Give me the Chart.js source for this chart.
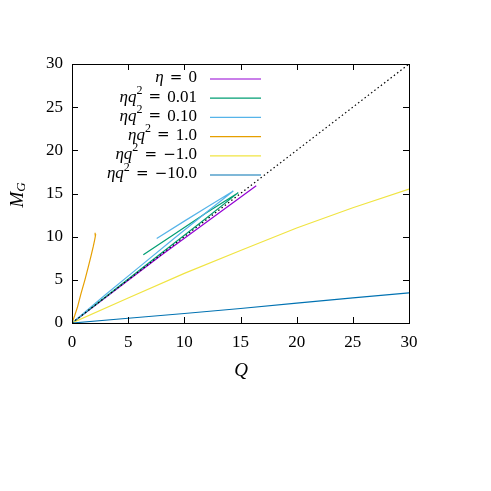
<!DOCTYPE html>
<html>
<head>
<meta charset="utf-8">
<script src="https://cdn.jsdelivr.net/npm/chart.js@4"></script>
<style>
  html, body { margin: 0; padding: 0; background: #fff; }
</style>
</head>
<body>
<canvas id="chart" width="491" height="491"></canvas>
<script>
'use strict';

// series: Q (x) and M_G (y)
const etaZeroQ = [0, 8, 16.4];
const etaZeroM = [0, 7.9, 15.9];

const eta001Q = [0, 3, 6, 9, 12, 14.8, 12, 9, 6.35];
const eta001M = [0, 3.05, 6.1, 9.15, 12.2, 15.1, 12.8, 10.2, 7.9];

const eta010Q = [0, 3, 6, 9, 12, 14.36, 12, 10, 7.54];
const eta010M = [0, 3.3, 6.5, 9.7, 12.85, 15.3, 13.4, 11.8, 9.8];

const eta1Q = [0, 0.25, 0.5, 0.8, 1.15, 1.45, 1.7, 1.9, 2.03, 2.1, 2.06];
const eta1M = [0, 0.9, 1.9, 3.4, 5.0, 6.5, 7.8, 8.9, 9.7, 10.2, 10.45];

const etaMinus1Q = [0, 5, 10, 15, 20, 25, 30];
const etaMinus1M = [0, 2.9, 5.75, 8.4, 11.0, 13.35, 15.5];

const etaMinus10Q = [0, 5, 10, 15, 20, 25, 30];
const etaMinus10M = [0, 0.55, 1.1, 1.68, 2.3, 2.9, 3.5];

const diagQ = [0, 30];
const diagM = [0, 30];

const seriesLabels = ['η = 0', 'ηq² = 0.01', 'ηq² = 0.10', 'ηq² = 1.0', 'ηq² = −1.0', 'ηq² = −10.0'];
const seriesColors = ['#9400d3', '#009e73', '#56b4e9', '#e69f00', '#f0e442', '#0072b2'];
const tickValues = [0, 5, 10, 15, 20, 25, 30];

const serif = '"Liberation Serif", "DejaVu Serif", serif';

function pts(xs, ys) {
    return xs.map((x, i) => ({ x: x, y: ys[i] }));
}

const allSeries = [
    pts(etaZeroQ, etaZeroM),
    pts(eta001Q, eta001M),
    pts(eta010Q, eta010M),
    pts(eta1Q, eta1M),
    pts(etaMinus1Q, etaMinus1M),
    pts(etaMinus10Q, etaMinus10M)
];

let datasets = allSeries.map((d, i) => ({
    label: seriesLabels[i],
    data: d,
    showLine: true,
    borderColor: seriesColors[i],
    backgroundColor: seriesColors[i],
    borderWidth: 1.2,
    pointRadius: 0,
    order: 10 - i
}));

datasets.push({
    label: 'Q = M',
    data: pts(diagQ, diagM),
    showLine: true,
    borderColor: '#000',
    borderWidth: 1.2,
    borderDash: [1.5, 2.6],
    pointRadius: 0,
    order: 0
});

// draw a piece of math text, right-aligned at xRight (TeX-like spacing)
function drawMath(ctx, str, xRight, y, size) {
    let parts = [];
    for (const ch of str) {
        if (ch === 'η' || ch === 'q') parts.push({ t: ch, f: 'italic ' + size + 'px ' + serif, dy: 0 });
        else if (ch === '²') parts.push({ t: '2', f: Math.round(size * 0.7) + 'px ' + serif, dy: -size * 0.38 });
        else if (ch === ' ') parts.push({ t: '', gap: size * 0.36 });
        else if (ch === '=' || ch === '−') parts.push({ t: ch, f: Math.round(size * 0.9) + 'px "DejaVu Serif"', dy: 0 });
        else parts.push({ t: ch, f: size + 'px ' + serif, dy: 0 });
    }
    let total = 0;
    parts.forEach(p => {
        if (p.gap) { p.w = p.gap; } else { ctx.font = p.f; p.w = ctx.measureText(p.t).width; }
        total += p.w;
    });
    let x = xRight - total;
    ctx.textAlign = 'left';
    ctx.textBaseline = 'middle';
    parts.forEach(p => {
        if (!p.gap) { ctx.font = p.f; ctx.fillText(p.t, x, y + p.dy); }
        x += p.w;
    });
}

const gnuplotFrame = {
    id: 'gnuplotFrame',
    afterDraw(chart) {
        const ctx = chart.ctx;
        const a = chart.chartArea;
        const xs = chart.scales.x;
        const ys = chart.scales.y;
        ctx.save();
        ctx.strokeStyle = '#000';
        ctx.lineWidth = 1;
        ctx.strokeRect(Math.round(a.left) + 0.5, Math.round(a.top) + 0.5,
            Math.round(a.right - a.left), Math.round(a.bottom - a.top));

        // inward ticks on all four sides
        ctx.beginPath();
        tickValues.forEach(v => {
            const px = Math.round(xs.getPixelForValue(v)) + 0.5;
            ctx.moveTo(px, a.bottom); ctx.lineTo(px, a.bottom - 6);
            ctx.moveTo(px, a.top); ctx.lineTo(px, a.top + 6);
            const py = Math.round(ys.getPixelForValue(v)) + 0.5;
            ctx.moveTo(a.left, py); ctx.lineTo(a.left + 6, py);
            ctx.moveTo(a.right, py); ctx.lineTo(a.right - 6, py);
        });
        ctx.stroke();

        // legend
        ctx.fillStyle = '#000';
        seriesLabels.forEach((lab, i) => {
            const y = 78 + i * 19.2;
            drawMath(ctx, lab, 197, y, 17);
            ctx.strokeStyle = seriesColors[i];
            ctx.lineWidth = 1.2;
            ctx.beginPath();
            ctx.moveTo(210, y + 1);
            ctx.lineTo(261, y + 1);
            ctx.stroke();
        });

        // axis titles
        ctx.fillStyle = '#000';
        ctx.textBaseline = 'middle';
        ctx.textAlign = 'center';
        ctx.font = 'italic 19px ' + serif;
        ctx.fillText('Q', 241, 371);

        ctx.translate(18, 195);
        ctx.rotate(-Math.PI / 2);
        ctx.font = 'italic 19px ' + serif;
        const wM = ctx.measureText('M').width;
        ctx.font = 'italic 13px ' + serif;
        const wG = ctx.measureText('G').width;
        ctx.textAlign = 'left';
        ctx.font = 'italic 19px ' + serif;
        ctx.fillText('M', -(wM + wG) / 2, 0);
        ctx.font = 'italic 13px ' + serif;
        ctx.fillText('G', -(wM + wG) / 2 + wM, 4);
        ctx.restore();
    }
};

const config = {
    type: 'scatter',
    data: { datasets: datasets },
    options: {
        responsive: false,
        animation: false,
        layout: { padding: { top: 64, right: 82, left: 0, bottom: 0 } },
        plugins: {
            legend: { display: false },
            tooltip: { enabled: false }
        },
        scales: {
            x: {
                type: 'linear',
                min: 0,
                max: 30,
                afterFit: (scale) => { scale.height = 168; },
                grid: { drawOnChartArea: false, drawTicks: false },
                border: { display: false },
                ticks: { stepSize: 5, padding: 9, color: '#000', font: { family: serif, size: 17 }, maxRotation: 0 }
            },
            y: {
                type: 'linear',
                min: 0,
                max: 30,
                afterFit: (scale) => { scale.width = 72; },
                grid: { drawOnChartArea: false, drawTicks: false },
                border: { display: false },
                ticks: { stepSize: 5, padding: 9, color: '#000', font: { family: serif, size: 17 } }
            }
        }
    },
    plugins: [gnuplotFrame]
};

const myChart = new Chart(document.getElementById('chart'), config);
</script>
</body>
</html>
